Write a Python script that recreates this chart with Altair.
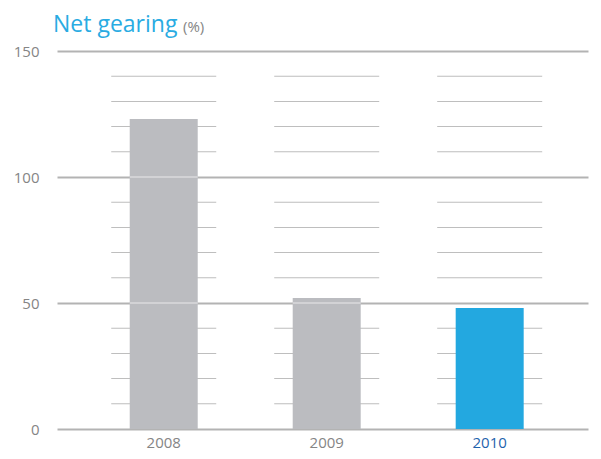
import altair as alt
import pandas as pd

years = ["2008", "2009", "2010"]
values = [123, 52, 48]
bar_colors = ["#bbbcc0", "#bbbcc0", "#23a8e0"]
major_levels = [0, 50, 100, 150]
minor_levels = [10, 20, 30, 40, 60, 70, 80, 90, 110, 120, 130, 140]

bars_df = pd.DataFrame({"year": years, "value": values, "color": bar_colors})
minor_df = pd.DataFrame([{"year": y, "level": l} for y in years for l in minor_levels])
light_df = pd.DataFrame([{"year": y, "level": l} for y, v in zip(years, values) for l in [50, 100] if v >= l])

xscale = alt.Scale(domain=years, paddingInner=0, paddingOuter=0.129, align=0.6)
yscale = alt.Scale(domain=[0, 150], nice=False)

font = "Open Sans"

minor = alt.Chart(minor_df).mark_tick(orient="horizontal", size=105, thickness=1, color="#a3a3a3").encode(
    x=alt.X("year:N", scale=xscale, sort=years,
            axis=alt.Axis(title=None, domain=False, ticks=False, labelAngle=0, labelPadding=6,
                          labelFontSize=15, labelFont=font,
                          labelColor=alt.expr("datum.value == '2010' ? '#1f63ad' : '#858585'"))),
    y=alt.Y("level:Q", scale=yscale,
            axis=alt.Axis(title=None, values=major_levels, domain=False, ticks=False,
                          labelPadding=18, labelFontSize=15, labelFont=font, labelColor="#858585",
                          grid=True, gridColor="#b3b3b3", gridWidth=2)),
)

bars = alt.Chart(bars_df).mark_bar(size=68).encode(
    x=alt.X("year:N", scale=xscale, sort=years),
    y=alt.Y("value:Q", scale=yscale),
    color=alt.Color("color:N", scale=None),
)

light = alt.Chart(light_df).mark_tick(orient="horizontal", size=68, thickness=2, color="#dcdcde").encode(
    x=alt.X("year:N", scale=xscale, sort=years),
    y=alt.Y("level:Q", scale=yscale),
)

title1 = alt.Chart(pd.DataFrame({"t": ["Net gearing"]})).mark_text(
    align="left", baseline="alphabetic", fontSize=23, font=font, color="#29abe2"
).encode(text="t:N", x=alt.value(-4), y=alt.value(-19))

title2 = alt.Chart(pd.DataFrame({"t": ["(%)"]})).mark_text(
    align="left", baseline="alphabetic", fontSize=15, font=font, color="#858585"
).encode(text="t:N", x=alt.value(126), y=alt.value(-19))

chart = alt.layer(minor, bars, light, title1, title2).properties(
    width=531, height=378,
    autosize=alt.AutoSizeParams(type="none"),
    padding={"left": 49, "top": 43, "right": 5, "bottom": 22},
).configure_view(stroke=None)

chart.save("out.html", embed_options={"renderer": "svg", "actions": False})
